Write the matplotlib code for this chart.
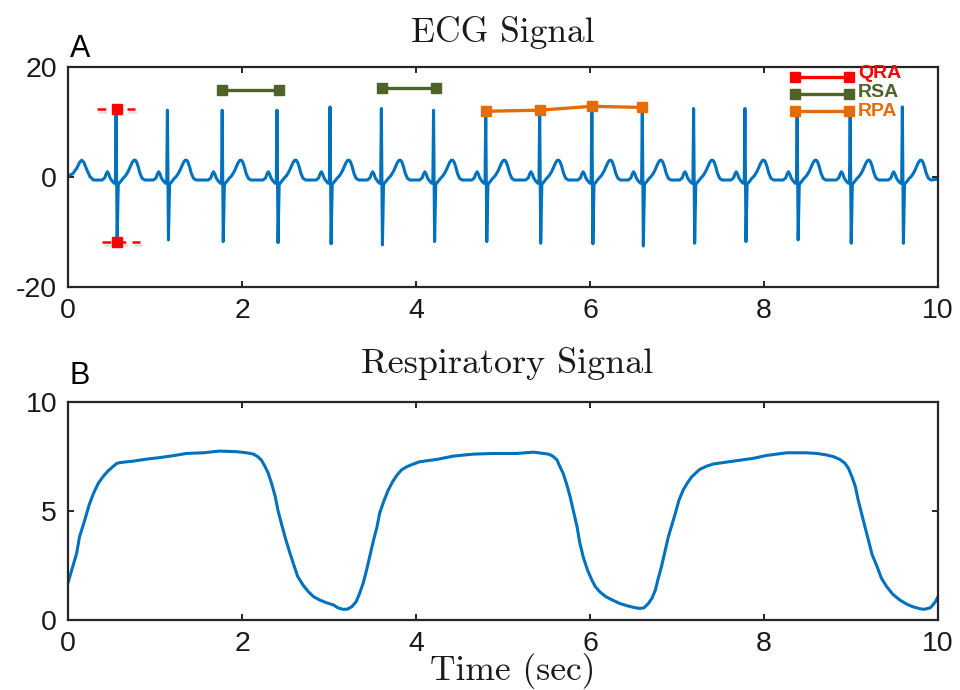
import numpy as np
import matplotlib
matplotlib.use("Agg")
import matplotlib.pyplot as plt
from matplotlib import patheffects as pe

# ---------------- data ----------------
# ECG: R-peak times (s), R amplitudes and S amplitudes
r_times = [0.55, 1.14, 1.77, 2.40, 3.01, 3.60, 4.20, 4.80, 5.42, 6.02,
           6.60, 7.19, 7.78, 8.38, 8.99, 9.59]
r_amps = [12.4, 12.1, 12.1, 12.1, 12.7, 12.4, 12.1, 11.9, 12.1, 12.7,
          12.7, 12.4, 12.4, 12.1, 11.9, 12.7]
s_amps = [-11.8, -11.5, -11.8, -12.0, -12.2, -12.4, -11.8, -11.8, -12.1, -12.2,
          -12.6, -12.1, -11.8, -11.5, -12.1, -12.1]
# one heartbeat read around an R peak: time offset (s) and value ('R'/'S' = per-beat peaks)
beat_offsets = [-0.22, -0.16, -0.13, -0.115, -0.10, -0.085, -0.07, -0.045,
                -0.02, -0.008, 0.0, 0.012, 0.025, 0.045, 0.08, 0.11, 0.14,
                0.165, 0.185, 0.205, 0.22, 0.235, 0.255, 0.275, 0.30, 0.33]
beat_values = [-0.6, -0.6, -0.2, 0.5, 0.9, 0.5, -0.2, -0.8,
               -1.2, -1.0, 'R', 'S', -1.4, -1.0, -0.3, 0.2, 1.0,
               1.9, 2.6, 3.0, 3.0, 2.7, 1.8, 0.6, -0.3, -0.6]
# signal before the first and after the last complete beat
lead_t = [0.0, 0.05, 0.10, 0.13, 0.155, 0.18, 0.21, 0.25, 0.29]
lead_v = [0.2, 0.5, 1.6, 2.6, 3.0, 2.6, 1.4, 0.0, -0.6]
tail_t = [9.97, 10.0]
tail_v = [-0.5, -0.4]

# annotations
qra_t = 0.56
qra_vals = [12.4, -11.8]
qra_top_x = [0.33, 0.77]
qra_bot_x = [0.39, 0.83]
rsa1_t = [1.77, 2.42]
rsa1_v = [15.8, 15.8]
rsa2_t = [3.61, 4.23]
rsa2_v = [16.2, 16.2]
rpa_t = [4.80, 5.42, 6.02, 6.60]
rpa_v = [11.9, 12.1, 12.8, 12.6]
legend_names = ["QRA", "RSA", "RPA"]
legend_x = [8.36, 8.98]
legend_y = [18.2, 15.0, 12.0]
legend_text_y = [18.8, 15.3, 11.8]

# Respiratory signal
resp_t = [0.0, 0.04, 0.096, 0.13, 0.19, 0.24, 0.29, 0.345, 0.40, 0.46, 0.52,
          0.56, 0.61, 0.75, 0.90, 1.05, 1.21, 1.36, 1.55, 1.74, 1.94, 2.05,
          2.13, 2.18, 2.22, 2.26, 2.30, 2.34, 2.38, 2.41, 2.45, 2.50, 2.55,
          2.60, 2.64, 2.70, 2.76, 2.82, 2.89, 2.97, 3.05, 3.10, 3.16, 3.21,
          3.26, 3.31, 3.35, 3.39, 3.43, 3.47, 3.51, 3.55, 3.58, 3.63, 3.68,
          3.73, 3.78, 3.83, 3.89, 3.97, 4.04, 4.24, 4.43, 4.66, 4.89, 5.16,
          5.35, 5.52, 5.57, 5.62, 5.65, 5.69, 5.73, 5.77, 5.81, 5.85, 5.88,
          5.92, 5.97, 6.02, 6.06, 6.11, 6.18, 6.27, 6.34, 6.42, 6.50, 6.57,
          6.62, 6.67, 6.71, 6.75, 6.78, 6.82, 6.86, 6.90, 6.94, 6.98, 7.02,
          7.07, 7.12, 7.17, 7.22, 7.26, 7.34, 7.42, 7.65, 7.88, 8.03, 8.26,
          8.49, 8.61, 8.72, 8.80, 8.87, 8.93, 8.97, 9.01, 9.05, 9.08, 9.12,
          9.16, 9.20, 9.24, 9.30, 9.35, 9.41, 9.48, 9.56, 9.64, 9.71, 9.79,
          9.84, 9.91, 9.94, 9.97, 10.0]
resp_v = [1.75, 2.29, 3.05, 3.82, 4.58, 5.27, 5.80, 6.26, 6.57, 6.84, 7.05,
          7.18, 7.22, 7.28, 7.37, 7.44, 7.53, 7.63, 7.66, 7.74, 7.71, 7.66,
          7.60, 7.48, 7.33, 7.05, 6.72, 6.23, 5.65, 5.04, 4.43, 3.70, 3.05,
          2.44, 1.98, 1.60, 1.30, 1.07, 0.92, 0.79, 0.69, 0.56, 0.49, 0.50,
          0.61, 0.84, 1.22, 1.68, 2.29, 2.98, 3.66, 4.27, 4.89, 5.47, 5.96,
          6.34, 6.64, 6.87, 7.02, 7.15, 7.25, 7.36, 7.51, 7.60, 7.63, 7.63,
          7.69, 7.60, 7.51, 7.33, 7.05, 6.72, 6.23, 5.65, 4.96, 4.27, 3.56,
          2.90, 2.29, 1.83, 1.53, 1.30, 1.07, 0.89, 0.76, 0.66, 0.58, 0.53,
          0.56, 0.76, 0.99, 1.37, 1.86, 2.44, 3.13, 3.82, 4.35, 4.89, 5.47,
          5.96, 6.29, 6.57, 6.75, 6.90, 7.05, 7.15, 7.28, 7.41, 7.54, 7.66,
          7.66, 7.63, 7.56, 7.48, 7.36, 7.18, 6.95, 6.57, 6.11, 5.53, 4.89,
          4.27, 3.66, 3.02, 2.44, 1.91, 1.53, 1.18, 0.92, 0.73, 0.61, 0.52,
          0.49, 0.56, 0.69, 0.84, 1.07]

ecg_xticks = [0, 2, 4, 6, 8, 10]
ecg_yticks = [-20, 0, 20]
resp_yticks = [0, 5, 10]

# ---------------- build ECG trace from beats ----------------
ecg_t = list(lead_t)
ecg_v = list(lead_v)
for rt, ra, sa in zip(r_times, r_amps, s_amps):
    for off, val in zip(beat_offsets, beat_values):
        ecg_t.append(rt + off)
        ecg_v.append(ra if val == 'R' else (sa if val == 'S' else val))
ecg_t += tail_t
ecg_v += tail_v

# ---------------- styling ----------------
BLUE = "#0072BD"
RED = "#FF0000"
GREEN = "#4F6228"
ORANGE = "#E46C0A"
FRAME = "#262626"
TICKFONT = "Liberation Sans"
SERIF = "cmr10"

plt.rcParams["axes.unicode_minus"] = False

fig = plt.figure(figsize=(9.6, 6.9), dpi=100)
ax1 = fig.add_axes([0.0711, 0.5845, 0.906, 0.3188])
ax2 = fig.add_axes([0.0711, 0.1014, 0.906, 0.3164])

def style(ax, yt):
    ax.set_xlim(0, 10)
    ax.set_xticks(ecg_xticks)
    ax.set_xticklabels([str(v) for v in ecg_xticks])
    ax.set_yticks(yt)
    ax.set_yticklabels([str(v) for v in yt])
    ax.set_ylim(yt[0], yt[-1])
    for s in ax.spines.values():
        s.set_color(FRAME)
        s.set_linewidth(1.6)
    ax.tick_params(direction="in", top=True, right=True, length=4.5,
                   width=1.4, color=FRAME, labelcolor="#1a1a1a", pad=8)
    for lab in ax.get_xticklabels() + ax.get_yticklabels():
        lab.set_fontfamily(TICKFONT)
        lab.set_fontsize(20.5)

style(ax1, ecg_yticks)
style(ax2, resp_yticks)

# ECG
ax1.plot(ecg_t, ecg_v, color=BLUE, lw=2.2, zorder=2, solid_joinstyle="round")

shadow = [pe.SimpleLineShadow(offset=(1, -2.5), alpha=0.25, shadow_color="gray"), pe.Normal()]
# QRA markers
ax1.plot(qra_top_x, [qra_vals[0]] * 2, color=RED, lw=1.8, ls=(0, (3.5, 2.5)), zorder=4,
         path_effects=shadow)
ax1.plot(qra_bot_x, [qra_vals[1]] * 2, color=RED, lw=1.8, ls=(0, (3.5, 2.5)), zorder=4,
         path_effects=shadow)
ax1.plot([qra_t, qra_t], qra_vals, ls="none", marker="s", ms=7.5, color=RED, zorder=5)

# RSA
for tt, vv in [(rsa1_t, rsa1_v), (rsa2_t, rsa2_v)]:
    ax1.plot(tt, vv, color=GREEN, lw=2.4, marker="s", ms=6.5, zorder=4)
# RPA
ax1.plot(rpa_t, rpa_v, color=ORANGE, lw=2.4, marker="s", ms=7, zorder=4)

# manual legend
for name, col, y, ty in zip(legend_names, [RED, GREEN, ORANGE], legend_y, legend_text_y):
    ax1.plot(legend_x, [y, y], color=col, lw=2.4, marker="s", ms=7, zorder=5)
    ax1.text(9.08, ty, name, color=col, fontsize=14, fontweight="bold",
             family="Liberation Sans", va="center", ha="left", zorder=6)

# Respiratory
ax2.plot(resp_t, resp_v, color=BLUE, lw=2.2, solid_joinstyle="round")

# titles, labels
fig.text(0.524, 1 - 41.7 / 690, "ECG Signal", family=SERIF, fontsize=25.5,
         ha="center", va="baseline", color="#1a1a1a")
fig.text(0.528, 1 - 373.0 / 690, "Respiratory Signal", family=SERIF, fontsize=26,
         ha="center", va="baseline", color="#1a1a1a")
fig.text(0.534, 1 - 680.0 / 690, "Time (sec)", family=SERIF, fontsize=25.5,
         ha="center", va="baseline", color="#1a1a1a")
fig.text(70 / 960, 1 - 57 / 690, "A", family=TICKFONT, fontsize=22,
         ha="left", va="baseline", color="black")
fig.text(70 / 960, 1 - 384 / 690, "B", family=TICKFONT, fontsize=22,
         ha="left", va="baseline", color="black")

fig.savefig("out.png", dpi=100, facecolor="white")
